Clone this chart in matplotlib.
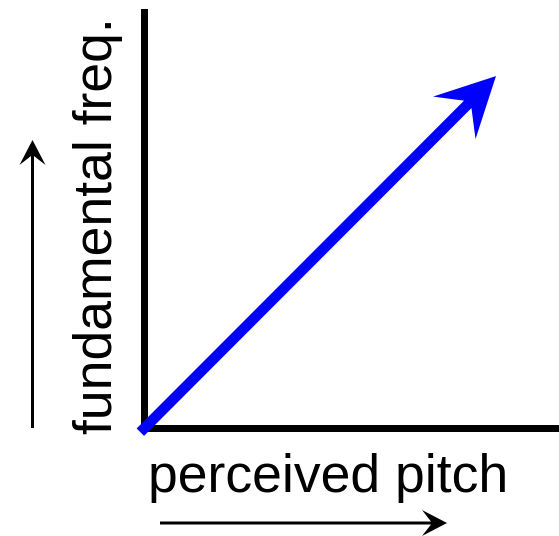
import numpy as np
import matplotlib.pyplot as plt
from matplotlib.patches import ArrowStyle
from matplotlib.path import Path

plt.rcParams['font.family'] = ['Liberation Sans', 'DejaVu Sans']

# mapping: perceived pitch -> fundamental frequency (normalised)
pitch = [-0.01, 0.848]
freq = [-0.01, 0.845]

x_label = "perceived pitch"
y_label = "fundamental freq."


class Notched(ArrowStyle._Base):
    """straight arrow with a swept-back (notched) head, sizes in points"""

    def __init__(self, head_length, head_width, notch, tail_width):
        self.head_length = head_length
        self.head_width = head_width
        self.notch = notch
        self.tail_width = tail_width
        super().__init__()

    def transmute(self, path, mutation_size, linewidth):
        p0 = np.asarray(path.vertices[0], float)
        p1 = np.asarray(path.vertices[-1], float)
        u = (p1 - p0) / np.hypot(*(p1 - p0))
        n = np.array([-u[1], u[0]])
        hl = self.head_length * mutation_size
        hw = self.head_width * mutation_size / 2
        nt = self.notch * mutation_size
        tw = self.tail_width * mutation_size / 2
        pts = [p0 + n * tw, p1 - u * nt + n * tw, p1 - u * hl + n * hw, p1,
               p1 - u * hl - n * hw, p1 - u * nt - n * tw, p0 - n * tw, p0 + n * tw]
        codes = [Path.MOVETO] + [Path.LINETO] * 6 + [Path.CLOSEPOLY]
        return Path(pts, codes), True


W, H = 559, 536
px = 0.72  # points per pixel at dpi 100
fig = plt.figure(figsize=(W / 100, H / 100), dpi=100)
ax = fig.add_axes([144.5 / W, (H - 428) / H, 1 - 144.5 / W, (428 - 11.5) / H])
ax.set_xlim(0, 1)
ax.set_ylim(0, 1)
for s in ['top', 'right']:
    ax.spines[s].set_visible(False)
for s in ['left', 'bottom']:
    ax.spines[s].set_linewidth(7 * px)
    ax.spines[s].set_color('black')
ax.set_xticks([])
ax.set_yticks([])

# big blue arrow
ax.annotate('', xy=(pitch[1], freq[1]), xytext=(pitch[0], freq[0]),
            annotation_clip=False,
            arrowprops=dict(arrowstyle=Notched(59 * px, 60 * px, 40 * px, 10.5 * px),
                            color='blue', lw=0, shrinkA=0, shrinkB=0, mutation_scale=1))

# labels
fig.text(148 / W, (H - 491.7) / H, x_label, fontsize=38.5, ha='left', va='baseline')
fig.text(111.7 / W, (H - 434) / H, y_label, fontsize=38.5, rotation=90,
         rotation_mode='anchor', ha='left', va='baseline')

# small direction arrows
small = dict(arrowstyle=Notched(25 * px, 26 * px, 16 * px, 3 * px),
             color='black', lw=0, shrinkA=0, shrinkB=0, mutation_scale=1)
ax.annotate('', xy=(447, H - 523), xytext=(160, H - 523),
            xycoords='figure pixels', textcoords='figure pixels',
            annotation_clip=False, arrowprops=small)
ax.annotate('', xy=(32.5, H - 140), xytext=(32.5, H - 428),
            xycoords='figure pixels', textcoords='figure pixels',
            annotation_clip=False, arrowprops=small)

fig.savefig('out.png', dpi=100)
